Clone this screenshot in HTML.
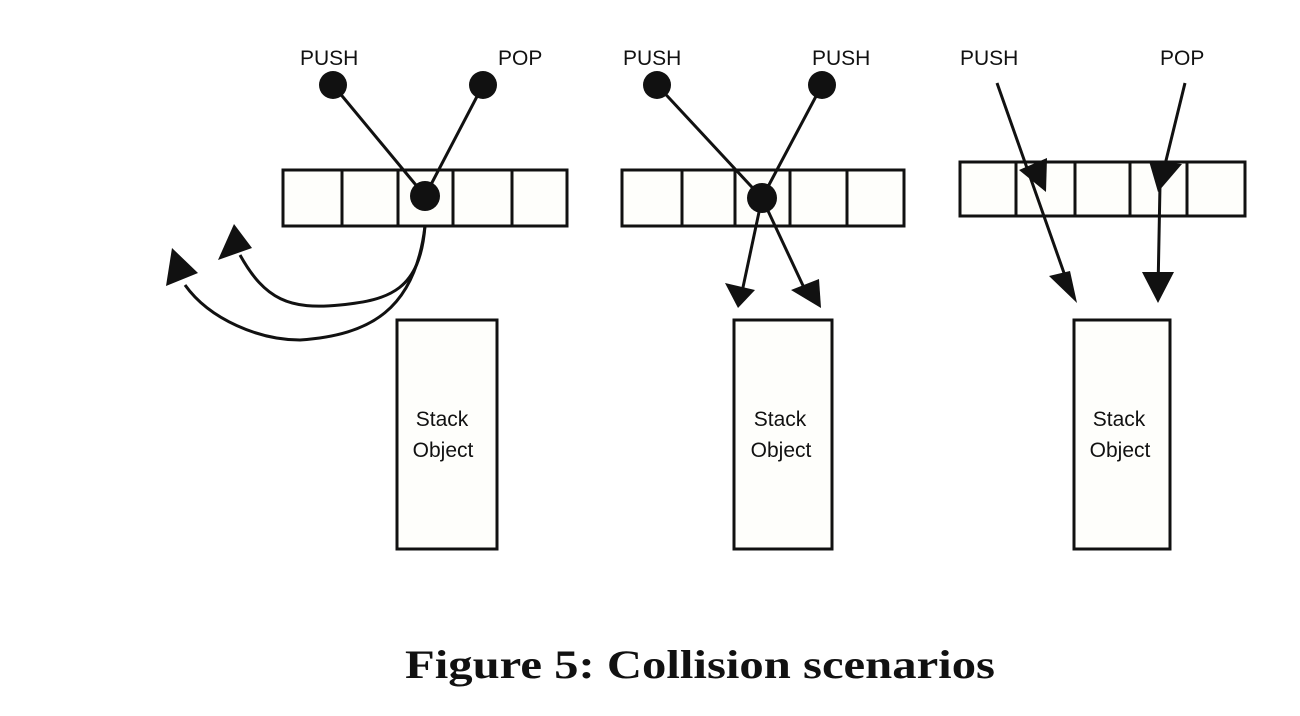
<!DOCTYPE html>
<html><head><meta charset="utf-8"><style>
html,body{margin:0;padding:0;background:#fff;}
svg{display:block}
</style></head><body>
<svg width="1300" height="716" viewBox="0 0 1300 716" xmlns="http://www.w3.org/2000/svg">
<g font-family="Liberation Sans, sans-serif" font-size="21" fill="#111">
<text x="300" y="65">PUSH</text><text x="498" y="65">POP</text>
<text x="623" y="65">PUSH</text><text x="812" y="65">PUSH</text>
<text x="960" y="65">PUSH</text><text x="1160" y="65">POP</text>
</g>
<g stroke="#111" stroke-width="3" fill="#fefefb">
<rect x="283" y="170" width="284" height="56"/>
<rect x="622" y="170" width="282" height="56"/>
<rect x="960" y="162" width="285" height="54"/>
<rect x="397" y="320" width="100" height="229"/>
<rect x="734" y="320" width="98" height="229"/>
<rect x="1074" y="320" width="96" height="229"/>
<path d="M342 170V226M398 170V226M453 170V226M512 170V226M682 170V226M735 170V226M790 170V226M847 170V226M1016 162V216M1075 162V216M1130 162V216M1187 162V216" fill="none"/>
</g>
<g stroke="#111" stroke-width="3" fill="none">
<line x1="333" y1="85" x2="425" y2="196"/><line x1="483" y1="85" x2="425" y2="196"/>
<line x1="657" y1="85" x2="762" y2="198"/><line x1="822" y1="85" x2="762" y2="198"/>
<line x1="762" y1="198" x2="742" y2="292"/><line x1="762" y1="198" x2="806" y2="292"/>
<path d="M425 226 C420 290 390 300 340 305 C290 310 265 300 240 255"/>
<path d="M425 226 C415 310 370 335 300 340 C260 340 210 320 185 285"/>
<line x1="997" y1="83" x2="1070" y2="290"/>
<path d="M1185 83 L1160 185 L1158 290"/>
</g>
<g fill="#111">
<circle cx="333" cy="85" r="14"/><circle cx="483" cy="85" r="14"/><circle cx="425" cy="196" r="15"/>
<circle cx="657" cy="85" r="14"/><circle cx="822" cy="85" r="14"/><circle cx="762" cy="198" r="15"/>
<polygon points="218,260 234,224 252,248"/>
<polygon points="166,286 172,248 198,273"/>
<polygon points="725,283 755,290 738,308"/>
<polygon points="791,290 819,279 821,308"/>
<polygon points="1019,170 1047,158 1046,192"/>
<polygon points="1149,161 1182,164 1158,192"/>
<polygon points="1049,276 1070,271 1077,303"/>
<polygon points="1142,272 1174,272 1158,303"/>
</g>
<g font-family="Liberation Sans, sans-serif" font-size="21" fill="#111" text-anchor="middle">
<text x="442" y="426">Stack</text><text x="443" y="457">Object</text>
<text x="780" y="426">Stack</text><text x="781" y="457">Object</text>
<text x="1119" y="426">Stack</text><text x="1120" y="457">Object</text>
</g>
<text x="405" y="678" textLength="590" lengthAdjust="spacingAndGlyphs" font-family="Liberation Serif, serif" font-weight="bold" font-size="40" fill="#111">Figure 5:  Collision scenarios</text>
</svg>
</body></html>
